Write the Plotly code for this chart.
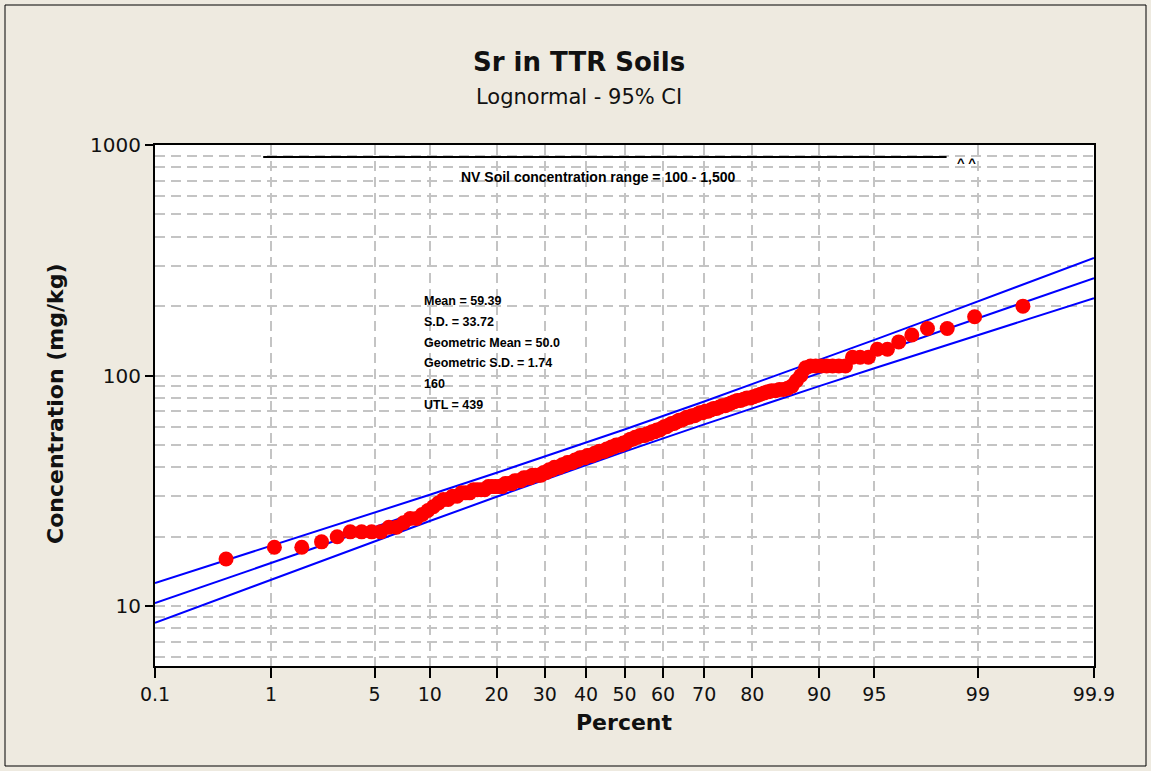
import math
from statistics import NormalDist
import plotly.graph_objects as go

# sorted Sr concentrations (mg/kg)
sr_values = [
    16, 18, 18, 19, 20, 21, 21, 21, 21, 22, 22, 23, 24, 24, 25, 26, 27, 28,
    29, 29, 30, 30, 31, 31, 31,
    32, 32, 32, 32, 33,
    33, 33, 33, 33, 34,
    34, 34, 35, 35, 35, 36, 36, 36, 37, 37, 37,
    37, 38, 38, 39, 39, 40, 40, 40, 41, 41, 42, 42, 42,
    43, 43, 44, 44, 44, 45, 45, 45, 46, 46, 47, 47, 47, 48,
    48, 49, 49, 50, 50, 50, 51, 51, 52,
    53, 53, 54, 54, 55, 55, 55, 56, 56, 57, 57, 58, 58, 59,
    60, 60, 61, 62, 62, 63, 64, 64, 65, 66, 66, 67, 67, 68,
    69, 69, 70, 70, 71, 72, 72, 73, 74, 74, 75, 76,
    77, 78, 78, 79, 80, 80, 81, 82, 83, 84,
    85, 86, 86, 87, 87, 88,
    90, 95, 100,
    108, 110, 110, 110, 110, 110, 110, 110,
    120, 120, 120, 130, 130, 140, 150, 160, 160, 180, 200,
]

# fitted lognormal line and 95% CI bands
ci_pct = [0.1, 0.5, 1, 2, 5, 10, 20, 30, 50, 70, 80, 90, 95, 98, 99, 99.5, 99.9]
fit_mid = [10.3, 13.5, 15.4, 17.8, 22.1, 26.7, 33.6, 39.7, 52.3, 68.9, 81.3,
           102.5, 124.0, 153.7, 177.3, 202.1, 264.7]
ci_upper = [12.6, 16.2, 18.2, 20.8, 25.4, 30.4, 37.9, 44.5, 58.4, 77.2, 91.7,
            116.8, 142.9, 179.8, 209.6, 241.4, 323.4]
ci_lower = [8.46, 11.3, 13.05, 15.2, 19.1, 23.4, 29.8, 35.4, 46.8, 61.4, 72.2,
            90.0, 107.6, 131.4, 149.9, 169.2, 216.6]

# NV soil range reference line
nv_pct = [0.87, 98.3]
nv_level = [887, 887]

x_ticks = [0.1, 1, 5, 10, 20, 30, 40, 50, 60, 70, 80, 90, 95, 99, 99.9]
x_tick_text = ["0.1", "1", "5", "10", "20", "30", "40", "50", "60", "70",
               "80", "90", "95", "99", "99.9"]
y_ticks = [10, 100, 1000]
y_minor = [6, 7, 8, 9, 20, 30, 40, 50, 60, 70, 80, 90,
           200, 300, 400, 500, 600, 700, 800, 900]

stats_lines = ["Mean = 59.39", "S.D. = 33.72", "Geometric Mean = 50.0",
               "Geometric S.D. = 1.74", "160", "UTL = 439"]

nd = NormalDist()


def pz(p):
    # percent -> normal score, for the probability axis
    return nd.inv_cdf(p / 100.0)


n = len(sr_values)
plot_pct = [(i + 1 - 0.3) / (n + 0.4) * 100 for i in range(n)]  # median ranks

FONT = "DejaVu Sans"
SMALL = "Liberation Sans, Arial, sans-serif"
BLUE = "#0000FF"
GRID = "#C4C4C4"
DASH = "10px,6px"

fig = go.Figure()
for band in (ci_upper, fit_mid, ci_lower):
    fig.add_trace(go.Scatter(
        x=[pz(p) for p in ci_pct], y=band, mode="lines",
        line={"color": BLUE, "width": 2}, hoverinfo="skip"))

fig.add_trace(go.Scatter(
    x=[pz(p) for p in plot_pct], y=sr_values, mode="markers",
    marker={"color": "#FF0000", "size": 15, "line": {"width": 0}}))

fig.add_trace(go.Scatter(
    x=[pz(p) for p in nv_pct], y=nv_level, mode="lines",
    line={"color": "black", "width": 2}, hoverinfo="skip"))

W, H = 1151, 771
L, R, T, B = 155, 57, 145, 105
pw, ph = W - L - R, H - T - B


def px_x(x):
    return (x - L) / pw


def px_y(y):
    return (H - B - y) / ph


annos = [
    dict(text="<b>Sr in TTR Soils</b>", x=px_x(579), y=px_y(62),
         font={"size": 26, "color": "#111"}),
    dict(text="Lognormal - 95% CI", x=px_x(579), y=px_y(97),
         font={"size": 21, "color": "#111"}),
    dict(text="<b>Concentration (mg/kg)</b>", x=px_x(55), y=px_y(404),
         textangle=-90, font={"size": 22, "color": "#111"}),
    dict(text="<b>Percent</b>", x=px_x(624), y=px_y(722),
         font={"size": 22, "color": "#111"}),
    dict(text="<b>NV Soil concentration range = 100 - 1,500</b>",
         x=px_x(598), y=px_y(177), font={"size": 14, "family": SMALL, "color": "black"}),
    dict(text="<b>^ ^</b>", x=px_x(966), y=px_y(162),
         font={"size": 13, "family": SMALL, "color": "black"}),
]
for k, line in enumerate(stats_lines):
    annos.append(dict(text="<b>" + line + "</b>", x=px_x(422), y=px_y(301 + 20.8 * k),
                      xanchor="left",
                      font={"size": 12.5, "family": SMALL, "color": "black"}))
for a in annos:
    a.setdefault("xanchor", "center")
    a.update(xref="paper", yref="paper", showarrow=False, yanchor="middle")

fig.update_layout(
    width=W, height=H,
    margin={"l": L, "r": R, "t": T, "b": B, "pad": 0},
    paper_bgcolor="#EEEAE0", plot_bgcolor="white",
    font={"family": FONT, "color": "#111"},
    showlegend=False,
    annotations=annos,
    shapes=[dict(type="rect", xref="paper", yref="paper",
                 x0=px_x(5), x1=px_x(1146), y0=px_y(766), y1=px_y(5),
                 line={"color": "black", "width": 1}, layer="below")],
    xaxis={
        "range": [pz(0.1), pz(99.9)],
        "tickmode": "array",
        "tickvals": [pz(p) for p in x_ticks],
        "ticktext": x_tick_text,
        "ticks": "outside", "ticklen": 10, "tickwidth": 1.5, "tickcolor": "black",
        "tickfont": {"size": 19, "color": "#111"},
        "showgrid": True, "gridcolor": GRID, "griddash": DASH, "gridwidth": 1.5,
        "showline": True, "linecolor": "black", "linewidth": 2, "mirror": True,
        "zeroline": False,
    },
    yaxis={
        "type": "log",
        "range": [math.log10(5.5), 3],
        "tickmode": "array",
        "tickvals": y_ticks,
        "ticktext": [str(v) for v in y_ticks],
        "ticks": "outside", "ticklen": 8, "tickwidth": 1.5, "tickcolor": "black",
        "tickfont": {"size": 20, "color": "#111"},
        "showgrid": True, "gridcolor": GRID, "griddash": DASH, "gridwidth": 1.5,
        "minor": {"tickmode": "array", "tickvals": y_minor, "showgrid": True,
                  "gridcolor": GRID, "griddash": DASH, "gridwidth": 1.5,
                  "ticks": ""},
        "showline": True, "linecolor": "black", "linewidth": 2, "mirror": True,
        "zeroline": False,
    },
)

# drop the default page margin so the chart sits at the window origin
fig.write_html("out.html", config={"displayModeBar": False},
               post_script="document.body.style.margin='0';")
